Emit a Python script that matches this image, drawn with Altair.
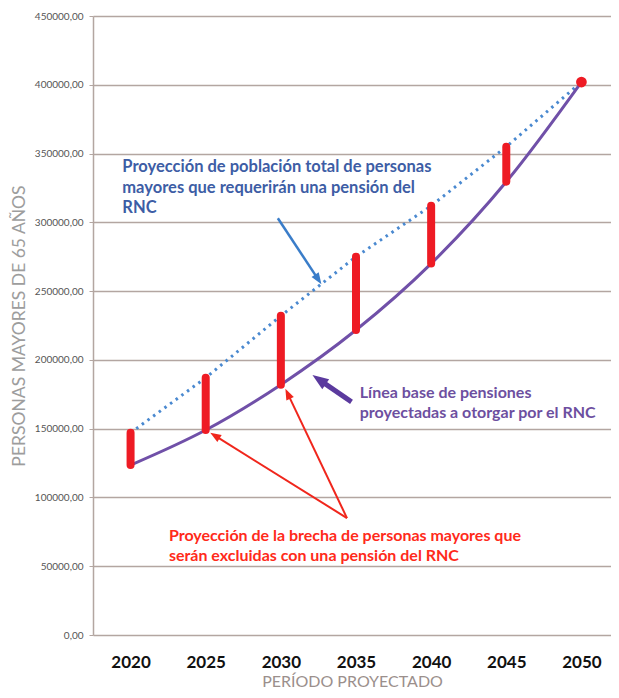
import math
import altair as alt
import pandas as pd

# ---------------- data ----------------
years = [2020, 2025, 2030, 2035, 2040, 2045, 2050]
total_pop = [147000, 187000, 232000, 275000, 312000, 355000, 402000]   # dotted blue
base_pens = [123500, 149000, 182000, 221700, 270000, 329500, 402000]   # purple line
y_ticks = [0, 50000, 100000, 150000, 200000, 250000, 300000, 350000, 400000, 450000]
x_ticks = years

blue_text = ["Proyección de  población  total de  personas",
             "mayores que requerirán  una  pensión  del",
             "RNC"]
purple_text = ["Línea  base de pensiones",
               "proyectadas a otorgar por el RNC"]
red_text = ["Proyección de la brecha de personas  mayores que",
            "serán excluidas con una pensión  del RNC"]

# annotation anchors (data units: year, persons) - first text line
blue_anchor = (2019.45, 340000)
purple_anchor = (2035.25, 176000)
red_anchor = (2022.55, 72000)
arrow_from = [(2029.8, 303000), (2034.7, 169500), (2034.4, 85000), (2034.4, 85000)]
arrow_to = [(2032.7, 255000), (2032.1, 189000), (2025.3, 147000), (2030.3, 179000)]
arrow_color = ["#3a7dc9", "#5b3a9e", "#f0261c", "#f0261c"]
arrow_width = [2.5, 5, 2, 2]
arrow_head = [130, 260, 120, 120]

# ---------------- layout ----------------
PX_PER_YEAR = 526 / 35
W, H = 518, 619
X_DOM = [2017.5, 2017.5 + W / PX_PER_YEAR]
Y_DOM = [0, 450000]
GRID = "#b3a6a1"
sx = W / (X_DOM[1] - X_DOM[0])
sy = H / (Y_DOM[1] - Y_DOM[0])

df = pd.DataFrame({"year": years, "total": total_pop, "base": base_pens})
gap = df.iloc[:-1]
end = df.iloc[-1:]

arrows = []
heads = []
for (fx, fy), (tx, ty), c, w, hs in zip(arrow_from, arrow_to, arrow_color, arrow_width, arrow_head):
    dx = (tx - fx) * sx
    dy = -(ty - fy) * sy
    L = math.hypot(dx, dy)
    ang = math.degrees(math.atan2(dx, -dy)) % 360
    back = math.sqrt(hs) * 0.8
    ex = tx - (dx / L) * back / sx
    ey = ty + (dy / L) * back / sy
    arrows.append({"x": fx, "y": fy, "x2": ex, "y2": ey, "c": c, "w": w})
    heads.append({"x": tx, "y": ty, "c": c, "a": ang, "s": hs})
arrows = pd.DataFrame(arrows)
heads = pd.DataFrame(heads)

xs = alt.Scale(domain=X_DOM, nice=False, zero=False)
ys = alt.Scale(domain=Y_DOM, nice=False)

base_chart = alt.Chart(df)

x_enc = alt.X("year:Q", scale=xs, axis=alt.Axis(
    values=x_ticks, format="d", grid=False, ticks=False, domain=False,
    labelFont="Lato", labelFontSize=17, labelFontWeight="bold", labelColor="#111111",
    labelPadding=19, title="PERÍODO PROYECTADO", titleFont="Lato", titleFontSize=16,
    titleFontWeight="normal", titleColor="#9b8f8c", titleBaseline="alphabetic", titleY=51))
y_enc = alt.Y("total:Q", scale=ys, axis=alt.Axis(
    values=y_ticks, labelExpr="replace(format(datum.value, '.2f'), '.', ',')",
    labelFont="Lato", labelFontSize=10, labelColor="#555555", tickSize=4, tickColor=GRID,
    domainColor=GRID, domainWidth=1.5, gridColor=GRID, gridWidth=1.5, labelPadding=6,
    title="PERSONAS MAYORES DE 65 AÑOS", titleFont="Lato", titleFontSize=17.5,
    titleFontWeight="normal", titleColor="#9d9d9d", titleX=-74, titleY=H / 2,
    titleBaseline="middle", titleAngle=270, titleAlign="center"))

dotted = base_chart.mark_line(color="#4a89d0", strokeWidth=3, strokeDash=[2.5, 4.5]).encode(
    x=x_enc, y=y_enc)
purple = base_chart.mark_line(color="#7050a8", strokeWidth=3, interpolate="monotone").encode(
    x=alt.X("year:Q", scale=xs), y=alt.Y("base:Q", scale=ys))
bars = alt.Chart(gap).mark_rule(color="#ee1b24", strokeWidth=8, strokeCap="round").encode(
    x=alt.X("year:Q", scale=xs), y=alt.Y("total:Q", scale=ys), y2="base:Q")
dot = alt.Chart(end).mark_circle(color="#ee1b24", size=115, opacity=1).encode(
    x=alt.X("year:Q", scale=xs), y=alt.Y("total:Q", scale=ys))

arrow_lines = alt.Chart(arrows).mark_rule().encode(
    x=alt.X("x:Q", scale=xs), y=alt.Y("y:Q", scale=ys), x2="x2:Q", y2="y2:Q",
    color=alt.Color("c:N", scale=None), strokeWidth=alt.StrokeWidth("w:Q", scale=None))
arrow_heads = alt.Chart(heads).mark_point(
    shape="M0,0L-0.75,2L0.75,2Z", filled=True, opacity=1).encode(
    x=alt.X("x:Q", scale=xs), y=alt.Y("y:Q", scale=ys),
    color=alt.Color("c:N", scale=None), angle=alt.Angle("a:Q", scale=None),
    size=alt.Size("s:Q", scale=None))


def label(lines, anchor, color, size):
    d = pd.DataFrame({"x": [anchor[0]], "y": [anchor[1]], "t": ["\n".join(lines)]})
    return alt.Chart(d).mark_text(
        align="left", baseline="middle", font="Lato", fontSize=size, fontWeight="bold",
        color=color, lineBreak="\n", lineHeight=20.5).encode(
        x=alt.X("x:Q", scale=xs), y=alt.Y("y:Q", scale=ys), text="t:N")


chart = alt.layer(
    dotted, purple, bars, dot, arrow_lines, arrow_heads,
    label(blue_text, blue_anchor, "#3d5da5", 16.5),
    label(purple_text, purple_anchor, "#6d4fa0", 16),
    label(red_text, red_anchor, "#ff2a1a", 16),
).properties(
    width=W, height=H,
    autosize=alt.AutoSizeParams(type="none"),
    padding={"left": 85, "top": 8, "right": 0, "bottom": 55},
    background="white",
).configure_view(stroke=None)

chart.save("out.html", embed_options={"renderer": "svg", "actions": False})
